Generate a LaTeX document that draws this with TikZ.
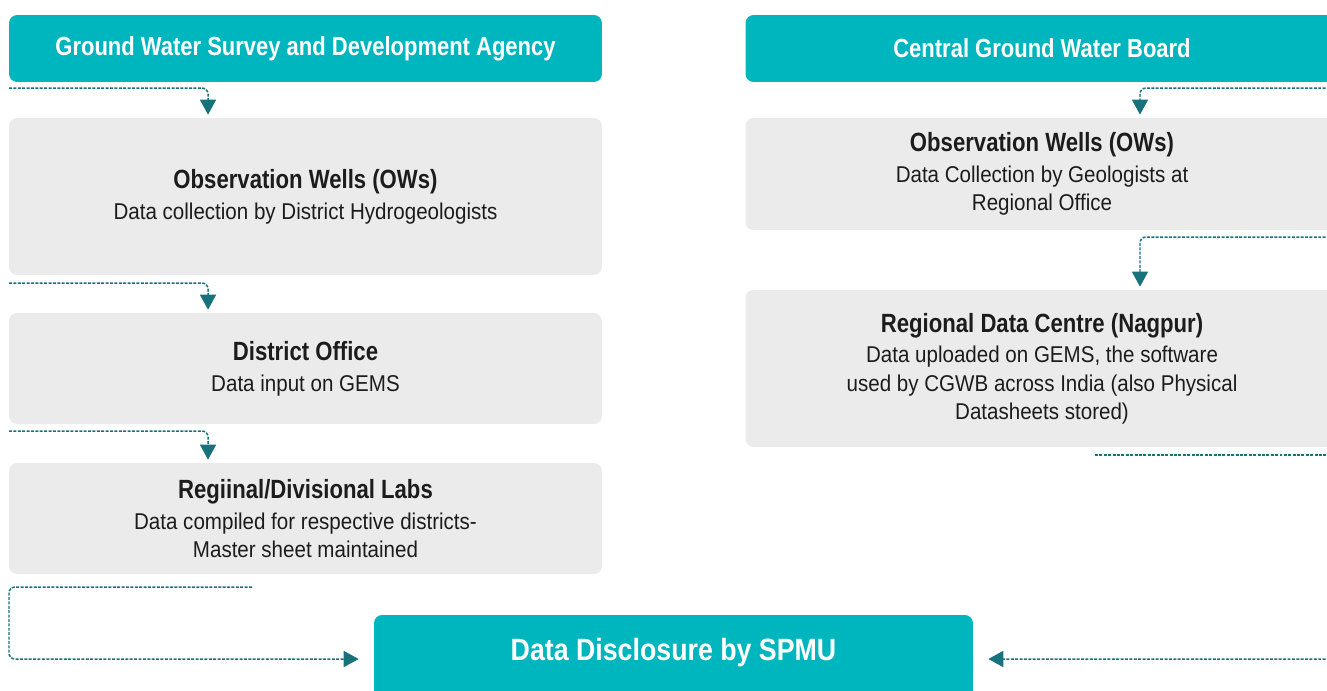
\documentclass[tikz,border=0pt]{standalone}
\usepackage{fontspec}
\setmainfont{Liberation Sans}
\newfontfamily\hdrfamily{Liberation Sans}[FakeStretch=0.84]
\newfontfamily\titlefamily{Liberation Sans}[FakeStretch=0.84]
\newfontfamily\bodyfamily{Liberation Sans}[FakeStretch=0.9]
\newfontfamily\spmufamily{Liberation Sans}[FakeStretch=0.87]
\usetikzlibrary{arrows.meta}

\definecolor{hdrteal}{HTML}{00B6BE}
\definecolor{boxgrey}{HTML}{EBEBEB}
\definecolor{flowteal}{HTML}{17727B}
\definecolor{textdark}{HTML}{1C1C1C}

\newcommand{\boxtitle}[1]{{\titlefamily\bfseries\fontsize{15}{16}\selectfont #1}}

\tikzset{
  hdrbox/.style={fill=hdrteal, rounded corners=0.16cm, minimum width=11.86cm,
    minimum height=1.34cm, inner sep=0pt, text=white,
    font=\hdrfamily\bfseries\fontsize{14.9}{16}\selectfont},
  infobox/.style={fill=boxgrey, rounded corners=0.16cm, minimum width=11.86cm,
    inner sep=0pt, align=center, text=textdark,
    font=\bodyfamily\fontsize{13}{16}\selectfont},
  flow/.style={draw=flowteal, line width=0.85pt, dash pattern=on 1.7pt off 0.8pt,
    rounded corners=0.12cm, -{Triangle[width=0.32cm,length=0.3cm]}},
  flowline/.style={draw=flowteal, line width=0.85pt, dash pattern=on 1.7pt off 0.8pt,
    rounded corners=0.12cm},
}

\begin{document}
\begin{tikzpicture}[x=0.02cm,y=-0.02cm]
  \useasboundingbox (0,0) rectangle (1327,690);
  \clip (0,0) rectangle (1327,690);
  \fill[white] (0,0) rectangle (1327,690);

  % --- headers ---
  \node[hdrbox] (gwsda) at (305.5,48.5) {Ground Water Survey and Development Agency};
  \node[hdrbox] (cgwb) at (1042,48.5) {Central Ground Water Board};

  % --- left column ---
  \node[infobox, minimum height=3.14cm] (lwells) at (305.5,196.5)
    {\boxtitle{Observation Wells (OWs)}\\[1.5pt]Data collection by District Hydrogeologists};
  \node[infobox, minimum height=2.22cm] (ldistrict) at (305.5,368.5)
    {\boxtitle{District Office}\\[1.5pt]Data input on GEMS};
  \node[infobox, minimum height=2.22cm] (llabs) at (305.5,518.5)
    {\boxtitle{Regiinal/Divisional Labs}\\[1.5pt]Data compiled for respective districts-\\Master sheet maintained};

  % --- right column ---
  \node[infobox, minimum height=2.24cm] (rwells) at (1042,174)
    {\boxtitle{Observation Wells (OWs)}\\[1.5pt]Data Collection by Geologists at\\Regional Office};
  \node[infobox, minimum height=3.14cm] (rcentre) at (1042,368.5)
    {\boxtitle{Regional Data Centre (Nagpur)}\\[1.5pt]Data uploaded on GEMS, the software\\used by CGWB across India (also Physical\\Datasheets stored)};

  % --- bottom box ---
  \fill[hdrteal] (374,653) rectangle (973,700);
  \node[hdrbox, minimum width=11.98cm, minimum height=1.52cm,
    font=\spmufamily\bfseries\fontsize{17.5}{18}\selectfont] (spmu) at (673.5,653) {Data Disclosure by SPMU};

  % --- free ends of the connectors ---
  \coordinate (l1) at (9,88);
  \coordinate (l2) at (9,283);
  \coordinate (l3) at (9,431);
  \coordinate (l4) at (252,587);
  \coordinate (r1) at (1330,88);
  \coordinate (r2) at (1330,237);
  \coordinate (r3a) at (1095,455);
  \coordinate (r3b) at (1330,455);
  \coordinate (r4) at (1330,659);

  % --- connectors ---
  \draw[flow, shorten >=0.06cm] (l1) -| ([xshift=-1.95cm]lwells.north);
  \draw[flow, shorten >=0.06cm] (l2) -| ([xshift=-1.95cm]ldistrict.north);
  \draw[flow, shorten >=0.06cm] (l3) -| ([xshift=-1.95cm]llabs.north);
  \draw[flow, shorten >=0.06cm] (r1) -| ([xshift=1.96cm]rwells.north);
  \draw[flow, shorten >=0.06cm] (r2) -| ([xshift=1.96cm]rcentre.north);
  \draw[flowline] (r3a) -- (r3b);
  \draw[flow, shorten >=0.3cm] (l4) -- (9,587) |- ([yshift=-0.12cm]spmu.west);
  \draw[flow, shorten >=0.3cm] (r4) -- ([yshift=-0.12cm]spmu.east);
\end{tikzpicture}
\end{document}
